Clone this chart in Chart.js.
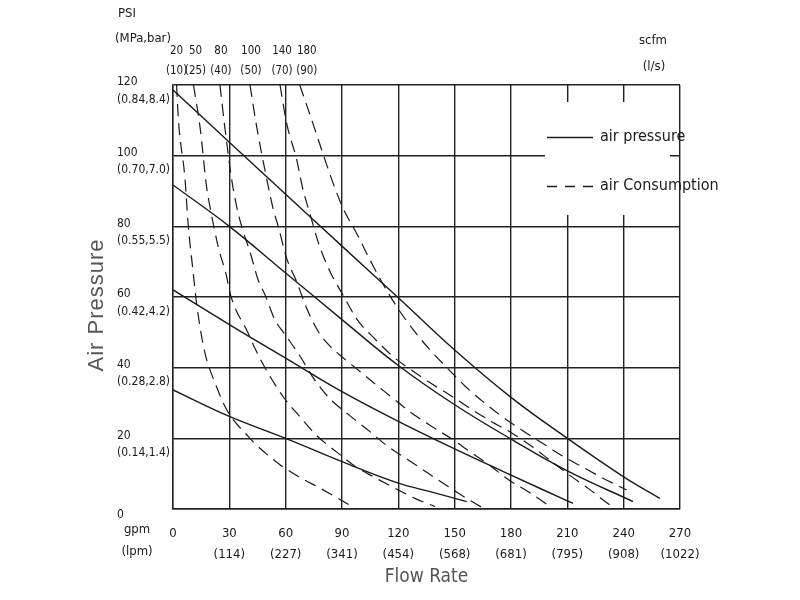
<!DOCTYPE html>
<html>
<head>
<meta charset="utf-8">
<title>Air pressure / air consumption curves</title>
<script src="https://cdn.jsdelivr.net/npm/chart.js@4.4.1/dist/chart.umd.min.js"></script>
<style>
  html, body { margin: 0; padding: 0; background: #fff; }
  #wrap { width: 800px; height: 600px; }
</style>
</head>
<body>
<div id="wrap"><canvas id="pumpChart" width="800" height="600"></canvas></div>
<script>
// axis ticks: flow rate in gpm (lpm below), air pressure in psi (MPa,bar below)
var gpmTicks = [0, 30, 60, 90, 120, 150, 180, 210, 240, 270];
var lpmTicks = ['', '114', '227', '341', '454', '568', '681', '795', '908', '1022'];
var psiTicks = [0, 20, 40, 60, 80, 100, 120];
var mpaBarTicks = ['', '0.14,1.4', '0.28,2.8', '0.42,4.2', '0.55,5.5', '0.70,7.0', '0.84,8.4'];

// air consumption labels, scfm and (l/s)
var scfmLabels = ['20', '50', '80', '100', '140', '180'];
var lsLabels = ['10', '25', '40', '50', '70', '90'];

// air pressure curves, [gpm, psi]
var pressure1 = [[0, 118.6], [30, 103.8], [60, 89.1], [90, 74.4], [120, 59.8], [150, 45], [180, 31.6], [210, 20], [240, 9.1], [259.3, 3]];
var pressure2 = [[0, 91.7], [30, 80], [60, 66.8], [90, 53.6], [120, 40.6], [150, 29.5], [180, 19.8], [210, 10.8], [245, 2.1]];
var pressure3 = [[0, 62], [30, 52.2], [60, 42.7], [90, 33.2], [120, 24.8], [150, 17], [180, 9.6], [210, 2.3], [213, 1.6]];
var pressure4 = [[0, 33.7], [30, 26.2], [60, 20], [90, 13.4], [120, 7.3], [137, 4.9], [156.4, 2.1]];

// air consumption curves, [gpm, psi]
var air20 = [[1.9, 120], [2.9, 110], [6.4, 93.4], [8, 81], [10.6, 67.6], [12.8, 57.2], [17, 44.2], [22.4, 35.7], [28.6, 28.1], [40.1, 20.5], [46.3, 17.2], [56.1, 12.9], [66.7, 9.2], [78.3, 5.9], [88, 3], [96.9, 0.2]];
var air50 = [[10.9, 120], [14.4, 108.1], [17.9, 91.1], [19.7, 85.5], [24.1, 74.2], [28.6, 65.7], [30.4, 61], [40.1, 49.7], [43.7, 45.4], [50.8, 38.3], [58.8, 31.7], [67.6, 26.1], [76.5, 20.8], [87.2, 16.1], [96.9, 12.1], [107.5, 8.9], [118.2, 5.9], [128.8, 3], [139.5, 0.7]];
var air80 = [[25, 120], [27.7, 107.6], [31.3, 93.1], [33.9, 85.6], [36.6, 79.9], [41, 72.8], [45.3, 64.9], [49, 60.6], [54.3, 53.5], [59.1, 49.8], [67.6, 43.3], [74.7, 37.1], [83, 31.5], [94, 26.5], [104.9, 21.9], [114.7, 17.6], [125.3, 13.9], [135.9, 10.1], [146.7, 6.3], [156.4, 3], [165.3, 0.2]];
var air100 = [[41, 120], [44.6, 108.1], [49.5, 94.5], [53.5, 84.6], [56.1, 79.9], [60.5, 71], [65.9, 64.3], [71.2, 56.8], [76.5, 51], [82, 47], [89, 43.5], [96.4, 40.3], [106.2, 36], [116.1, 31.8], [126.7, 27.3], [137.4, 23.5], [148, 20], [157.6, 16.4], [168.3, 12.5], [178.9, 8.2], [189.2, 4.9], [200.8, 0.7]];
var air140 = [[57, 120], [60.5, 109.2], [65.9, 98.8], [69, 90.9], [73.4, 82.7], [77.4, 75.4], [83.6, 67.2], [90.7, 60.4], [98.2, 53.5], [107.6, 48.1], [117.3, 43.1], [127.5, 39.1], [138.2, 35.3], [148.8, 31.8], [159.5, 28], [169.7, 24.7], [180.8, 21.4], [191.4, 17.6], [201.7, 13.4], [211.9, 9.3], [221.5, 5.7], [231.4, 1.6], [235.4, 0]];
var air180 = [[67.5, 120], [73.9, 110.1], [79.2, 101.6], [85.2, 92.3], [90.5, 85.2], [98.7, 77.1], [104.9, 70.5], [111.6, 63.9], [119.1, 57.3], [128, 50.7], [136.9, 45], [146.6, 39.6], [155.9, 34.6], [165.7, 30.1], [175.9, 25.9], [186.5, 22.1], [196.8, 18.6], [207.4, 15], [218.1, 11.9], [228.7, 8.8], [241.6, 5.4]];

var pressureCurves = [pressure1, pressure2, pressure3, pressure4];
var airCurves = [air20, air50, air80, air100, air140, air180];

var NARROW = "'DejaVu Sans Condensed', 'Liberation Sans', sans-serif";
var INK = '#1a1a1a';

function toPoints(curve) {
  return curve.map(function(p) { return { x: p[0], y: p[1] }; });
}

var datasets = [];
pressureCurves.forEach(function(c, i) {
  datasets.push({
    label: 'air pressure ' + (i + 1),
    data: toPoints(c),
    showLine: true,
    pointRadius: 0,
    borderColor: INK,
    borderWidth: 1.4,
    tension: 0.4
  });
});
airCurves.forEach(function(c, i) {
  datasets.push({
    label: 'air consumption ' + scfmLabels[i],
    data: toPoints(c),
    showLine: true,
    pointRadius: 0,
    borderColor: INK,
    borderWidth: 1.2,
    borderDash: [12, 7],
    cubicInterpolationMode: 'monotone'
  });
});

// small shifts so the crowded top labels do not run into each other
var topLabelShift = [0, 2, 1, 1, 2, 7];

// extra texts, curve labels and the legend box
var extras = {
  id: 'extras',
  beforeDatasetsDraw: function(chart) {
    var ctx = chart.ctx;
    ctx.save();
    ctx.fillStyle = '#fff';
    ctx.fillRect(545, 102, 125, 113);
    ctx.restore();
  },
  afterDraw: function(chart) {
    var ctx = chart.ctx;
    var xs = chart.scales.x;
    ctx.save();
    ctx.fillStyle = INK;
    ctx.textBaseline = 'middle';

    ctx.font = '13px ' + NARROW;
    ctx.textAlign = 'left';
    ctx.fillText('PSI', 118, 14);
    ctx.fillText('(MPa,bar)', 115, 39);

    ctx.textAlign = 'center';
    ctx.fillText('scfm', 653, 41);
    ctx.fillText('(l/s)', 654, 67);
    ctx.fillText('gpm', 137, 530);
    ctx.fillText('(lpm)', 137, 552);

    // consumption labels sit over the top end of each dashed curve
    ctx.font = '11.5px ' + NARROW;
    airCurves.forEach(function(c, i) {
      var px = xs.getPixelForValue(c[0][0]) + topLabelShift[i];
      ctx.fillText(scfmLabels[i], px, 51);
      ctx.fillText('(' + lsLabels[i] + ')', px, 71);
    });

    // legend
    ctx.strokeStyle = INK;
    ctx.lineWidth = 1.3;
    ctx.beginPath();
    ctx.moveTo(547, 137.5);
    ctx.lineTo(593, 137.5);
    ctx.stroke();
    ctx.setLineDash([10, 8]);
    ctx.beginPath();
    ctx.moveTo(547, 186.5);
    ctx.lineTo(593, 186.5);
    ctx.stroke();
    ctx.setLineDash([]);
    ctx.font = '16px ' + NARROW;
    ctx.textAlign = 'left';
    ctx.fillText('air pressure', 600, 137);
    ctx.fillText('air Consumption', 600, 186);

    // y axis title
    ctx.fillStyle = '#555';
    ctx.font = '22px "Liberation Sans", Arial, sans-serif';
    ctx.letterSpacing = '1px';
    ctx.translate(97, 305);
    ctx.rotate(-Math.PI / 2);
    ctx.textAlign = 'center';
    ctx.fillText('Air Pressure', 0, 0);
    ctx.restore();
  }
};

new Chart(document.getElementById('pumpChart'), {
  type: 'scatter',
  data: { datasets: datasets },
  options: {
    responsive: false,
    animation: false,
    layout: { padding: { left: 117, top: 85, right: 120, bottom: 0 } },
    plugins: {
      legend: { display: false },
      tooltip: { enabled: false }
    },
    scales: {
      x: {
        type: 'linear',
        min: 0,
        max: 270,
        afterFit: function(scale) { scale.height = 91; },
        afterBuildTicks: function(scale) {
          scale.ticks = gpmTicks.map(function(v) { return { value: v }; });
        },
        grid: { color: '#222', lineWidth: 1.4, drawTicks: false },
        border: { color: '#222', width: 1.4 },
        ticks: {
          autoSkip: false,
          maxRotation: 0,
          padding: 14,
          color: INK,
          font: { family: NARROW, size: 13, lineHeight: 1.6 },
          callback: function(v) {
            var i = gpmTicks.indexOf(v);
            return v === 0 ? '0' : [String(v), '(' + lpmTicks[i] + ')'];
          }
        },
        title: {
          display: true,
          text: 'Flow Rate',
          color: '#555',
          font: { family: NARROW, size: 19 },
          padding: { top: 0, bottom: 12 }
        }
      },
      y: {
        type: 'linear',
        min: 0,
        max: 120,
        afterFit: function(scale) { scale.width = 56; },
        afterBuildTicks: function(scale) {
          scale.ticks = psiTicks.map(function(v) { return { value: v }; });
        },
        grid: { color: '#222', lineWidth: 1.4, drawTicks: false },
        border: { color: '#222', width: 1.4 },
        ticks: {
          align: 'start',
          crossAlign: 'far',
          color: INK,
          font: { family: NARROW, size: 12, lineHeight: 1.45 },
          callback: function(v) {
            var i = psiTicks.indexOf(v);
            return v === 0 ? '0' : [String(v), '(' + mpaBarTicks[i] + ')'];
          }
        }
      }
    }
  },
  plugins: [extras]
});
</script>
</body>
</html>
